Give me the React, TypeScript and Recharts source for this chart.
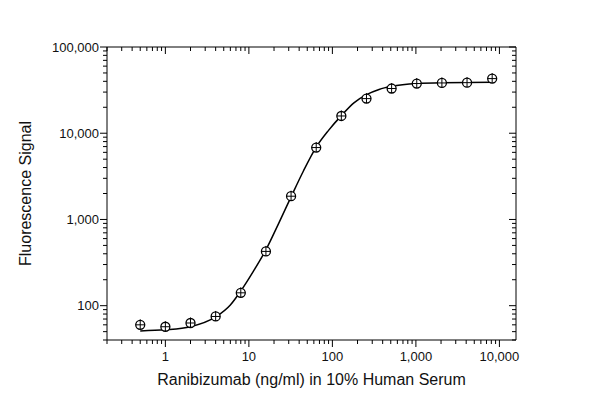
import {
  ComposedChart,
  Line,
  ReferenceLine,
  Scatter,
  XAxis,
  YAxis,
} from "recharts";

// measured points (ng/ml vs fluorescence)
const concentrations = [0.5, 1, 2, 4, 8, 16, 32, 64, 128, 256, 512, 1024, 2048, 4096, 8192];
const signal = [60, 57, 63, 75, 141, 426, 1860, 6820, 15850, 25200, 33000, 37700, 38300, 38600, 43000];

// fitted curve
const curveX = [0.5, 1, 2, 4, 6, 8, 11.3, 16, 22.6, 32, 45, 64, 90, 128, 181, 256, 362, 512, 1024, 2048, 4096, 8192];
const curveY = [51, 52.5, 57, 74, 102, 148, 250, 445, 890, 1830, 3650, 6900, 10800, 16000, 22500, 28000, 32200, 35000, 37800, 38600, 38800, 38900];

const xMajor = [1, 10, 100, 1000, 10000];
const xMinor = [0.2, 0.3, 0.4, 0.5, 0.6, 0.7, 0.8, 0.9, 2, 3, 4, 5, 6, 7, 8, 9, 20, 30, 40, 50, 60, 70, 80, 90, 200, 300, 400, 500, 600, 700, 800, 900, 2000, 3000, 4000, 5000, 6000, 7000, 8000, 9000];
const yMajor = [100, 1000, 10000, 100000];
const yMinor = [40, 50, 60, 70, 80, 90, 200, 300, 400, 500, 600, 700, 800, 900, 2000, 3000, 4000, 5000, 6000, 7000, 8000, 9000, 20000, 30000, 40000, 50000, 60000, 70000, 80000, 90000];

const X_DOMAIN: [number, number] = [0.2, 15800];
const Y_DOMAIN: [number, number] = [40, 100000];

const points = concentrations.map((x, i) => ({ x, y: signal[i] }));
const curve = curveX.map((x, i) => ({ x, y: curveY[i] }));

const xTicks = [...xMinor, ...xMajor].sort((a, b) => a - b);
const yTicks = [...yMinor, ...yMajor].sort((a, b) => a - b);

const FONT = "'Liberation Sans', Arial, sans-serif";
const MARGIN = { top: 47, right: 84, bottom: 0, left: 0 };
const Y_AXIS_W = 107;
const X_AXIS_H = 71;
const PLOT_W = 600 - MARGIN.right - Y_AXIS_W;
const PLOT_H = 411 - MARGIN.top - X_AXIS_H;
const MAJOR = 7;
const MINOR = 4;

const fmt = (v: number) => v.toLocaleString("en-US");

// bottom ticks point out, mirrored top ticks point in
function XTick({ x, y, payload }: any) {
  const major = xMajor.includes(payload.value);
  const len = major ? MAJOR : MINOR;
  return (
    <g>
      <line x1={x} y1={y} x2={x} y2={y + len} stroke="#000" />
      <line x1={x} y1={y - PLOT_H} x2={x} y2={y - PLOT_H + len} stroke="#000" />
      {major && (
        <text x={x} y={y + 21} textAnchor="middle" fontSize={13} fontFamily={FONT} fill="#111">
          {fmt(payload.value)}
        </text>
      )}
    </g>
  );
}

// left ticks point out, mirrored right ticks point in
function YTick({ x, y, payload }: any) {
  const major = yMajor.includes(payload.value);
  const len = major ? MAJOR : MINOR;
  return (
    <g>
      <line x1={x} y1={y} x2={x - len} y2={y} stroke="#000" />
      <line x1={x + PLOT_W} y1={y} x2={x + PLOT_W - len} y2={y} stroke="#000" />
      {major && (
        <text x={x - 8} y={y + 4.5} textAnchor="end" fontSize={13} fontFamily={FONT} fill="#111">
          {fmt(payload.value)}
        </text>
      )}
    </g>
  );
}

function Marker({ cx, cy }: any) {
  const r = 4.5;
  return (
    <g>
      <circle cx={cx} cy={cy} r={r} fill="#fff" stroke="#000" strokeWidth={1.3} />
      <line x1={cx - r} y1={cy} x2={cx + r} y2={cy} stroke="#000" strokeWidth={1} />
      <line x1={cx} y1={cy - r - 1} x2={cx} y2={cy + r} stroke="#000" strokeWidth={1} />
    </g>
  );
}

export default function App() {
  return (
    <div style={{ position: "fixed", left: 0, top: 0, background: "#fff" }}>
      <ComposedChart width={600} height={411} margin={MARGIN}>
        <XAxis
          dataKey="x"
          type="number"
          scale="log"
          domain={X_DOMAIN}
          allowDataOverflow
          ticks={xTicks}
          interval={0}
          tick={<XTick />}
          tickLine={false}
          tickSize={0}
          tickMargin={0}
          height={X_AXIS_H}
          axisLine={{ stroke: "#000" }}
          label={{
            value: "Ranibizumab (ng/ml) in 10% Human Serum",
            position: "insideBottom",
            offset: 26,
            fontSize: 16,
            fontFamily: FONT,
            fill: "#111",
          }}
        />
        <YAxis
          type="number"
          scale="log"
          domain={Y_DOMAIN}
          allowDataOverflow
          ticks={yTicks}
          interval={0}
          tick={<YTick />}
          tickLine={false}
          tickSize={0}
          tickMargin={0}
          width={Y_AXIS_W}
          axisLine={{ stroke: "#000" }}
          label={{
            value: "Fluorescence Signal",
            angle: -90,
            position: "insideLeft",
            offset: 25,
            fontSize: 16,
            fontFamily: FONT,
            fill: "#111",
            style: { textAnchor: "middle" },
          }}
        />
        {/* frame: top and right borders */}
        <ReferenceLine y={Y_DOMAIN[1]} stroke="#000" strokeWidth={1} />
        <ReferenceLine x={X_DOMAIN[1]} stroke="#000" strokeWidth={1} />
        <Line
          data={curve}
          dataKey="y"
          type="monotone"
          stroke="#000"
          strokeWidth={1.5}
          dot={false}
          activeDot={false}
          isAnimationActive={false}
        />
        <Scatter
          data={points}
          dataKey="y"
          shape={<Marker />}
          isAnimationActive={false}
        />
      </ComposedChart>
    </div>
  );
}
